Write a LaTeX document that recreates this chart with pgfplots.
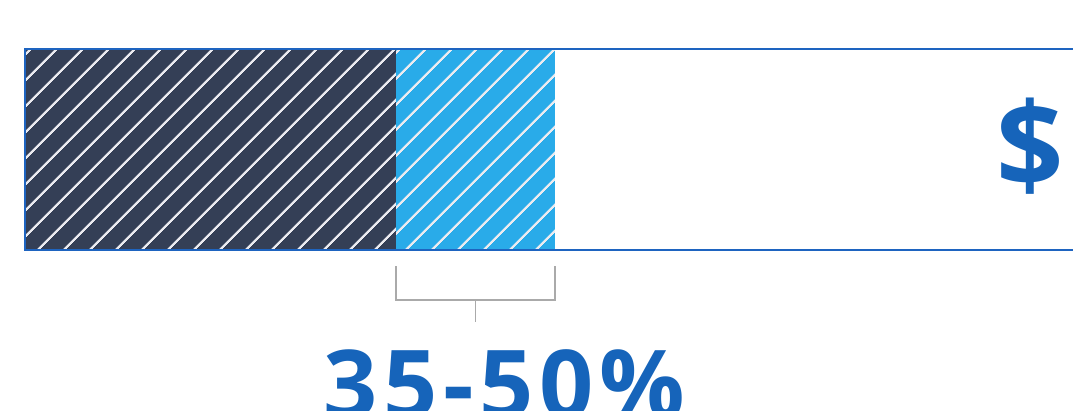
\documentclass[border=0pt]{standalone}
\usepackage{pgfplots}
\pgfplotsset{compat=1.18}
\usetikzlibrary{patterns.meta}
\usepackage{fontspec}
\setmainfont{Open Sans}
\newfontfamily\spaced[LetterSpace=6]{Open Sans}
\definecolor{navy}{RGB}{52,63,86}
\definecolor{lightblue}{RGB}{41,171,233}
\definecolor{outline}{RGB}{30,100,192}
\definecolor{textblue}{RGB}{22,100,186}
\definecolor{brk}{RGB}{170,170,170}
\definecolor{hatch}{RGB}{235,235,240}
\begin{document}
\begin{tikzpicture}
\useasboundingbox (0,0) rectangle (1073pt,410pt);
\clip (0,0) rectangle (1073pt,410pt);
\begin{axis}[
  at={(0,0)}, anchor=south west,
  scale only axis, width=1073pt, height=410pt,
  xmin=-2.358, xmax=98.87, ymin=0, ymax=410,
  hide axis, clip=false,
  xbar stacked, bar width=201,
]
\addplot[draw=none, fill=navy, postaction={pattern={Lines[angle=45,distance=18.9pt,line width=2.3pt]}, pattern color=hatch}] coordinates {(35,260.5)};
\addplot[draw=none, fill=lightblue, postaction={pattern={Lines[angle=45,distance=18.9pt,line width=2.3pt]}, pattern color=hatch}] coordinates {(15,260.5)};
\addplot[draw=none, fill=none] coordinates {(50,260.5)};
\coordinate (bl) at (axis cs:0,160);
\coordinate (tr) at (axis cs:100,361);
\coordinate (b1) at (axis cs:35,144);
\coordinate (b2) at (axis cs:35,110);
\coordinate (b3) at (axis cs:50,110);
\coordinate (b4) at (axis cs:50,144);
\coordinate (s1) at (axis cs:42.5,110);
\coordinate (s2) at (axis cs:42.5,88);
\coordinate (dol) at (axis cs:94.8,264);
\coordinate (pct) at (axis cs:28.15,61);
\end{axis}
\draw[outline, line width=2pt] (bl) rectangle (tr);
\draw[brk, line width=1.3pt] (b1) -- (b2) -- (b3) -- (b4);
\draw[brk, line width=1.3pt] (s1) -- (s2);
\node[text=textblue, font=\fontsize{118}{124}\selectfont\bfseries, anchor=center] at (dol) {\$};
\node[text=textblue, font=\fontsize{95}{110}\selectfont\spaced\bfseries, anchor=north west, inner sep=0pt] at (pct) {35-50\%};
\end{tikzpicture}
\end{document}
